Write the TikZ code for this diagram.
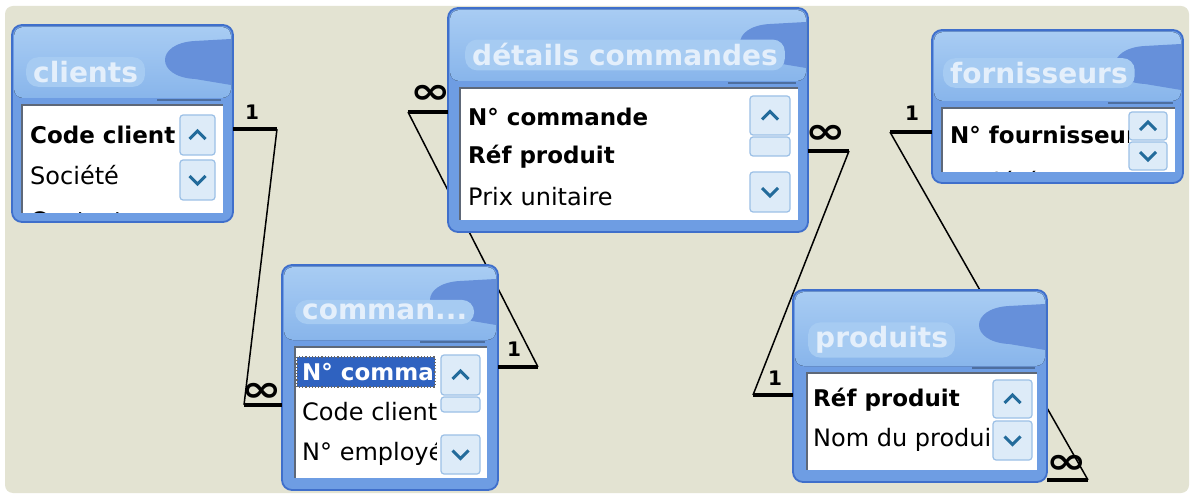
\documentclass[tikz,border=0pt]{standalone}
\usepackage{fontspec}
\setmainfont{DejaVu Sans}
\usetikzlibrary{calc}
\definecolor{bgc}{HTML}{E3E3D2}
\definecolor{winborder}{HTML}{3F6FCB}
\definecolor{winbody}{HTML}{6E9DE3}
\definecolor{titletop}{HTML}{A8CCF3}
\definecolor{titlebot}{HTML}{88B5EB}
\definecolor{blobc}{HTML}{6690DA}
\definecolor{glowc}{HTML}{A6CBF2}
\definecolor{titletext}{HTML}{E4EFFB}
\definecolor{listborder}{HTML}{5E6878}
\definecolor{btnfill}{HTML}{DDEBF8}
\definecolor{btnborder}{HTML}{9CC0E6}
\definecolor{chev}{HTML}{236B9B}
\definecolor{selbg}{HTML}{2F62C0}
\tikzset{
  ttl/.style={anchor=west, inner xsep=7pt, inner ysep=4pt, fill=glowc, rounded corners=12pt,
    text=titletext, font=\bfseries\fontsize{28}{32}\selectfont},
  fld/.style={anchor=west, inner sep=0pt, font=\fontsize{24}{28}\selectfont},
  fldb/.style={anchor=west, inner sep=0pt, font=\bfseries\fontsize{23}{28}\selectfont},
  onelbl/.style={inner sep=0pt, font=\bfseries\fontsize{20}{22}\selectfont},
  infn/.style={inner sep=0pt, font=\bfseries\fontsize{36}{40}\selectfont},
  thin/.style={black, line width=1.5pt},
  stub/.style={black, line width=4.5pt},
  btn/.style={fill=btnfill, draw=btnborder, line width=1.2pt, rounded corners=3pt},
  chv/.style={chev, line width=3pt},
}
\newcommand\dbwin[9]{%
  \fill[winbody, rounded corners=10pt] (#1,#2) rectangle (#3,#4);
  \fill[top color=titletop, bottom color=titlebot, rounded corners=9pt] (#1+2,#2+2) rectangle (#3-2,#6-7);
  \fill[blobc] (#3-2,#2+14) -- (#3-38,#2+16) .. controls (#3-78,#2+18) and (#3-78,#2+52) .. (#3-38,#2+54) -- (#3-2,#2+60) -- cycle;
  \draw[winborder, line width=1.8pt, rounded corners=10pt] (#1,#2) rectangle (#3,#4);
  \fill[white] (#5,#6) rectangle (#7,#8);
  \draw[listborder, line width=2.2pt] (#5,#8) -- (#5,#6) -- (#7,#6);
  \draw[winbody!70!black, line width=2pt] (#9-20,#6-5) -- (#7-2,#6-5);
}
\newcommand\sbup[4]{%
  \draw[btn] (#1,#2) rectangle (#3,#4);
  \draw[chv] ({(#1+#3)/2-8},{(#2+#4)/2+4}) -- ({(#1+#3)/2},{(#2+#4)/2-4}) -- ({(#1+#3)/2+8},{(#2+#4)/2+4});
}
\newcommand\sbdn[4]{%
  \draw[btn] (#1,#2) rectangle (#3,#4);
  \draw[chv] ({(#1+#3)/2-8},{(#2+#4)/2-4}) -- ({(#1+#3)/2},{(#2+#4)/2+4}) -- ({(#1+#3)/2+8},{(#2+#4)/2-4});
}
\newcommand\sbthumb[4]{\draw[btn] (#1,#2) rectangle (#3,#4);}
\newcommand\infglyph{\scalebox{1.35}[1]{∞}}
\begin{document}
\begin{tikzpicture}[x=1pt,y=-1pt]
\useasboundingbox (0,0) rectangle (1195,497);
\fill[white] (0,0) rectangle (1195,497);
\fill[bgc, rounded corners=8pt] (5,6) rectangle (1189,493);

% connector end coordinates
\coordinate (s1a) at (233,129); \coordinate (s1b) at (277,129);
\coordinate (s1c) at (244,405); \coordinate (s1d) at (282,405);
\coordinate (s2a) at (448,112); \coordinate (s2b) at (408,112);
\coordinate (s2c) at (538,367); \coordinate (s2d) at (498,367);
\coordinate (s3a) at (808,151); \coordinate (s3b) at (849,151);
\coordinate (s3c) at (753,395); \coordinate (s3d) at (793,395);
\coordinate (s4a) at (932,132); \coordinate (s4b) at (890,132);
\coordinate (s4c) at (1088,480); \coordinate (s4d) at (1047,480);

% thin relation lines (behind windows)
\draw[thin] (s1b) -- (s1c);
\draw[thin] (s2b) -- (s2c);
\draw[thin] (s3b) -- (s3c);
\draw[thin] (s4b) -- (s4c);

% ---------- clients ----------
\dbwin{12}{25}{233}{222}{22}{105}{223}{213}{177}
\sbup{180}{115}{215}{155}
\sbdn{180}{160}{215}{200}
\node[ttl] (clients) at (26,72) {clients};
\begin{scope}
\clip (22,106) rectangle (177,213);
\node[fldb] (cl1) at (30,135) {Code client};
\node[fld] (cl2) at (30,175) {Société};
\node[fld] (cl3) at (30,221) {Contact};
\end{scope}

% ---------- details commandes ----------
\dbwin{448}{8}{808}{232}{460}{88}{798}{220}{748}
\sbup{750}{96}{790}{135}
\sbthumb{750}{137}{790}{156}
\sbdn{750}{172}{790}{212}
\node[ttl] (details) at (465,55) {détails commandes};
\begin{scope}
\clip (460,89) rectangle (748,220);
\node[fldb] (dc1) at (468,117) {N° commande};
\node[fldb] (dc2) at (468,157) {Réf produit};
\node[fld] (dc3) at (468,197) {Prix unitaire};
\end{scope}

% ---------- fornisseurs ----------
\dbwin{932}{30}{1183}{183}{942}{108}{1175}{172}{1128}
\sbup{1129}{112}{1167}{140}
\sbdn{1129}{142}{1167}{170}
\node[ttl] (fourn) at (943,73) {fornisseurs};
\begin{scope}
\clip (942,109) rectangle (1128,172);
\node[fldb] (fo1) at (950,135) {N° fournisseur};
\node[fld] (fo2) at (950,181) {Société};
\end{scope}

% ---------- commandes ----------
\dbwin{282}{265}{498}{490}{295}{347}{487}{478}{440}
\sbup{441}{355}{480}{395}
\sbthumb{441}{397}{480}{412}
\sbdn{441}{435}{480}{474}
\node[ttl] (commandes) at (295,312) {comman...};
\begin{scope}
\clip (295,348) rectangle (436,478);
\fill[selbg] (297,357) rectangle (435,387);
\draw[black!60, dotted, line width=1.2pt] (297,357) rectangle (435,387);
\node[fldb, text=white] (co1) at (302,372) {N° commande};
\node[fld] (co2) at (302,412) {Code client};
\node[fld] (co3) at (302,453) {N° employé};
\end{scope}

% ---------- produits ----------
\dbwin{793}{290}{1047}{482}{807}{373}{1037}{470}{992}
\sbup{993}{380}{1032}{418}
\sbdn{993}{421}{1032}{460}
\node[ttl] (produits) at (808,340) {produits};
\begin{scope}
\clip (807,374) rectangle (989,470);
\node[fldb] (pr1) at (813,400) {Réf produit};
\node[fld] (pr2) at (813,440) {Nom du produit};
\end{scope}

% stubs
\draw[stub] (s1a) -- (s1b);
\draw[stub] (s1c) -- (s1d);
\draw[stub] (s2a) -- (s2b);
\draw[stub] (s2c) -- (s2d);
\draw[stub] (s3a) -- (s3b);
\draw[stub] (s3c) -- (s3d);
\draw[stub] (s4a) -- (s4b);
\draw[stub] (s4c) -- (s4d);

% cardinality labels
\node[onelbl] (one1) at (252,112) {1};
\node[onelbl] (one2) at (514,349) {1};
\node[onelbl] (one3) at (775,378) {1};
\node[onelbl] (one4) at (912,113) {1};
\node[infn] (inf1) at (262,392) {\infglyph};
\node[infn] (inf2) at (431,94) {\infglyph};
\node[infn] (inf3) at (826,134) {\infglyph};
\node[infn] (inf4) at (1067,464) {\infglyph};
\end{tikzpicture}
\end{document}
